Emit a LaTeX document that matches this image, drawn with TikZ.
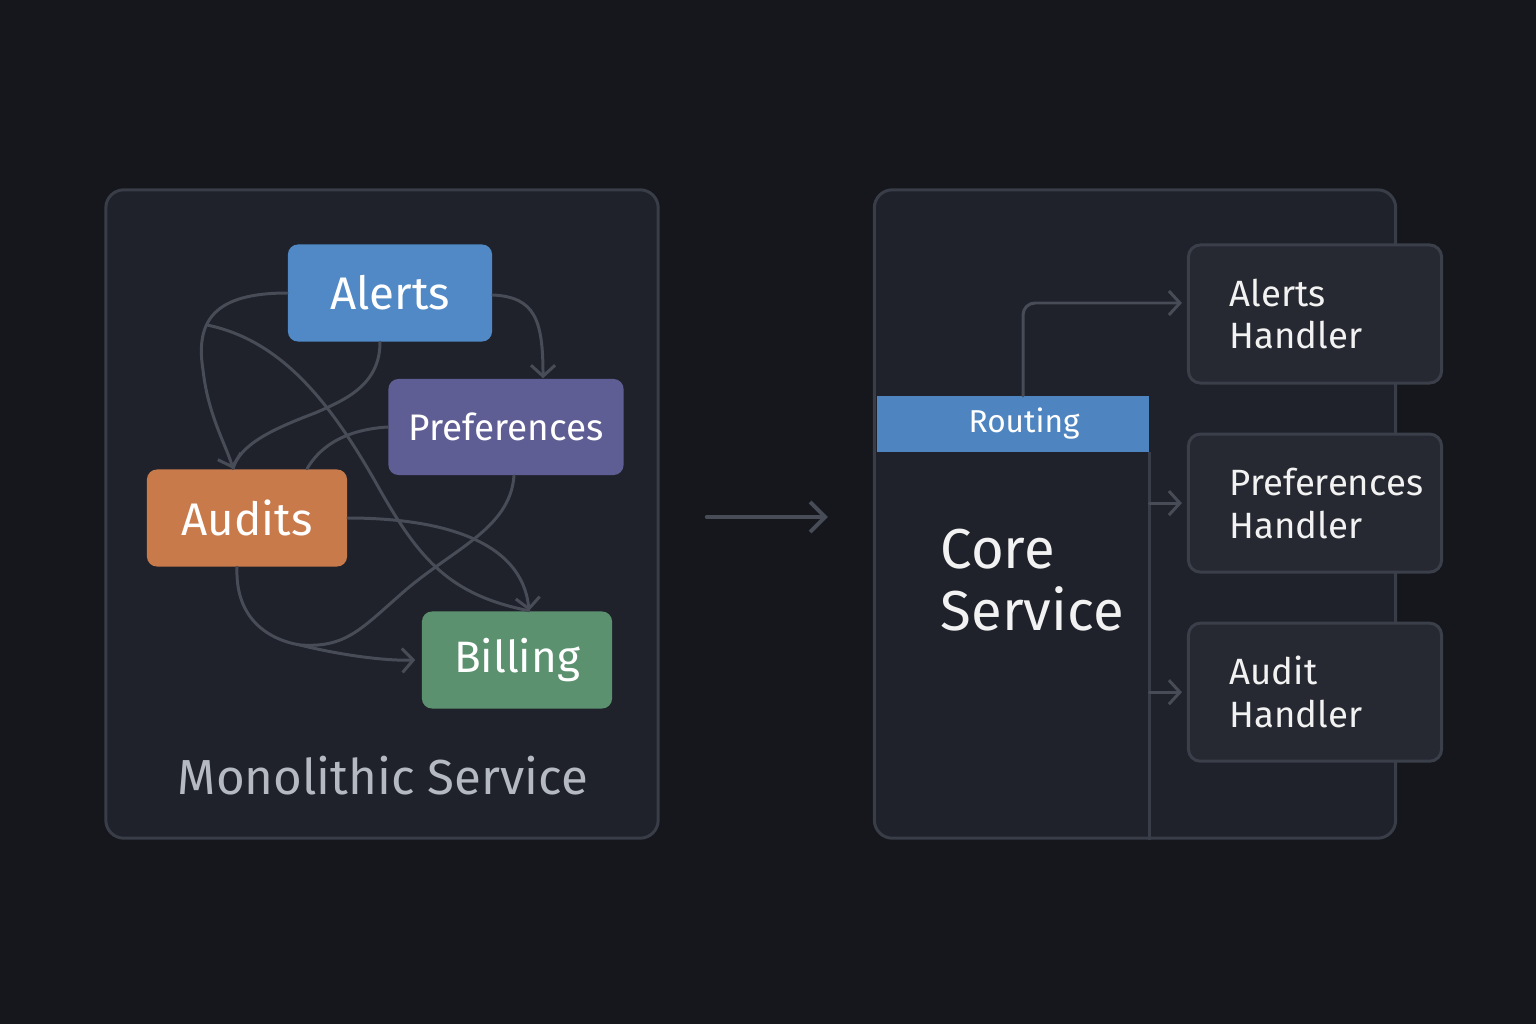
\documentclass[tikz,border=0pt]{standalone}
\usepackage{fontspec}
\setmainfont{Fira Sans}
\usetikzlibrary{positioning,arrows.meta}
\definecolor{bgcol}{HTML}{15171D}
\definecolor{panelfill}{HTML}{1F222B}
\definecolor{panelline}{HTML}{393D47}
\definecolor{wirecol}{HTML}{474C56}
\definecolor{alertcol}{HTML}{5089C6}
\definecolor{prefcol}{HTML}{5F5E94}
\definecolor{auditcol}{HTML}{C97A4B}
\definecolor{billcol}{HTML}{5C9170}
\definecolor{routecol}{HTML}{4E84C0}
\definecolor{handlerfill}{HTML}{262932}
\definecolor{handlerline}{HTML}{3B3F4A}
\definecolor{labelcol}{HTML}{B5B9C1}
\begin{document}
\begin{tikzpicture}[x=0.01cm,y=-0.01cm,
    panel/.style={draw=panelline, line width=0.85pt, fill=panelfill, rounded corners=0.18cm},
    module/.style={rounded corners=0.1cm, text=white, minimum height=0.97cm, font=\fontsize{13}{15}\selectfont},
    handler/.style={draw=handlerline, line width=0.85pt, fill=handlerfill, rounded corners=0.12cm,
        minimum width=2.53cm, minimum height=1.38cm},
    htext/.style={inner sep=0pt, align=left, text=white!90!gray, font=\fontsize{10.4}{12.2}\selectfont},
    wire/.style={draw=wirecol, line width=0.85pt, line cap=round},
    tip/.style={-{Straight Barb[length=1.1mm,width=2.4mm]}},
  ]
  \fill[bgcol] (0,0) rectangle (1536,1024);
  \useasboundingbox (0,0) rectangle (1536,1024);

  \node[panel, minimum width=5.52cm, minimum height=6.48cm] (mono) at (382,514) {};
  \node[text=labelcol, font=\fontsize{14}{16}\selectfont] (monolabel) at (383,776) {Monolithic Service};
  \node[module, fill=alertcol, minimum width=2.04cm] (al) at (390,293) {Alerts};
  \node[module, fill=prefcol, minimum width=2.35cm, minimum height=0.96cm, font=\fontsize{10.5}{12}\selectfont] (pr) at (506,427) {Preferences};
  \node[module, fill=auditcol, minimum width=2.0cm] (au) at (247,518) {Audits};
  \node[module, fill=billcol, minimum width=1.9cm, font=\fontsize{12.5}{15}\selectfont] (bi) at (517,660) {Billing};
  \coordinate (loose) at (207,325);
  \coordinate (merge) at (300,645);

  \draw[wire, tip] (al.west) .. controls (215,293) and (195,320) .. (203,370)
    .. controls (208,415) and (226,445) .. ([xshift=-0.14cm]au.north);
  \draw[wire] ([xshift=-0.1cm]al.south) .. controls (380,385) and (345,400) .. (315,413)
    .. controls (270,430) and (240,445) .. ([xshift=-0.14cm]au.north);
  \draw[wire, tip] ([yshift=-0.02cm]al.east) .. controls (535,297) and (543,320) .. ([xshift=0.37cm]pr.north);
  \draw[wire] (loose) .. controls (280,340) and (330,400) .. (380,490)
    .. controls (420,560) and (450,595) .. ([xshift=0.12cm]bi.north);
  \draw[wire, tip] (au.east) .. controls (440,518) and (522,540) .. ([xshift=0.12cm]bi.north);
  \draw[wire] (pr.west) .. controls (340,430) and (318,450) .. ([xshift=0.6cm]au.north);
  \draw[wire] ([xshift=0.08cm]pr.south) .. controls (510,530) and (450,550) .. (400,595)
    .. controls (360,630) and (345,648) .. (merge);
  \draw[wire, tip] ([xshift=-0.1cm]au.south) .. controls (235,620) and (270,640) .. (merge)
    .. controls (340,655) and (385,661) .. ([xshift=-0.06cm]bi.west);

  \node[panel, minimum width=5.21cm, minimum height=6.48cm] (core) at (1135,514) {};
  \draw[wire, line width=1.1pt, -{Straight Barb[length=1.5mm,width=3mm]}]
    ([xshift=0.47cm,yshift=-0.03cm]mono.east) -- ([xshift=-0.45cm,yshift=-0.03cm]core.west);
  \node[fill=routecol, minimum width=2.71cm, minimum height=0.55cm, text=white,
    font=\fontsize{9}{11}\selectfont] (rt) at (1013,424) {\hspace*{0.22cm}\raisebox{-0.03cm}{Routing}};
  \draw[draw=panelline, line width=0.85pt] (rt.south east) -- (rt.south east |- core.south);
  \node[align=left, anchor=west, inner sep=0pt, text=white!90!gray,
    font=\fontsize{16}{17.8}\selectfont] (coretext) at (940,580) {Core\\Service};

  \node[handler] (ah) at (1315,314) {};
  \node[handler, below=0.48cm of ah] (ph) {};
  \node[handler, below=0.48cm of ph] (dh) {};
  \node[htext, right=0.42cm of ah.west] {Alerts\\Handler};
  \node[htext, right=0.42cm of ph.west] {Preferences\\Handler};
  \node[htext, right=0.42cm of dh.west] {Audit\\Handler};

  \draw[wire, tip, rounded corners=0.12cm] ([xshift=0.1cm]rt.north) |- ([xshift=-0.05cm,yshift=0.11cm]ah.west);
  \draw[wire, tip] (rt.east |- ph.west) -- ([xshift=-0.05cm]ph.west);
  \draw[wire, tip] (rt.east |- dh.west) -- ([xshift=-0.05cm]dh.west);
\end{tikzpicture}
\end{document}
